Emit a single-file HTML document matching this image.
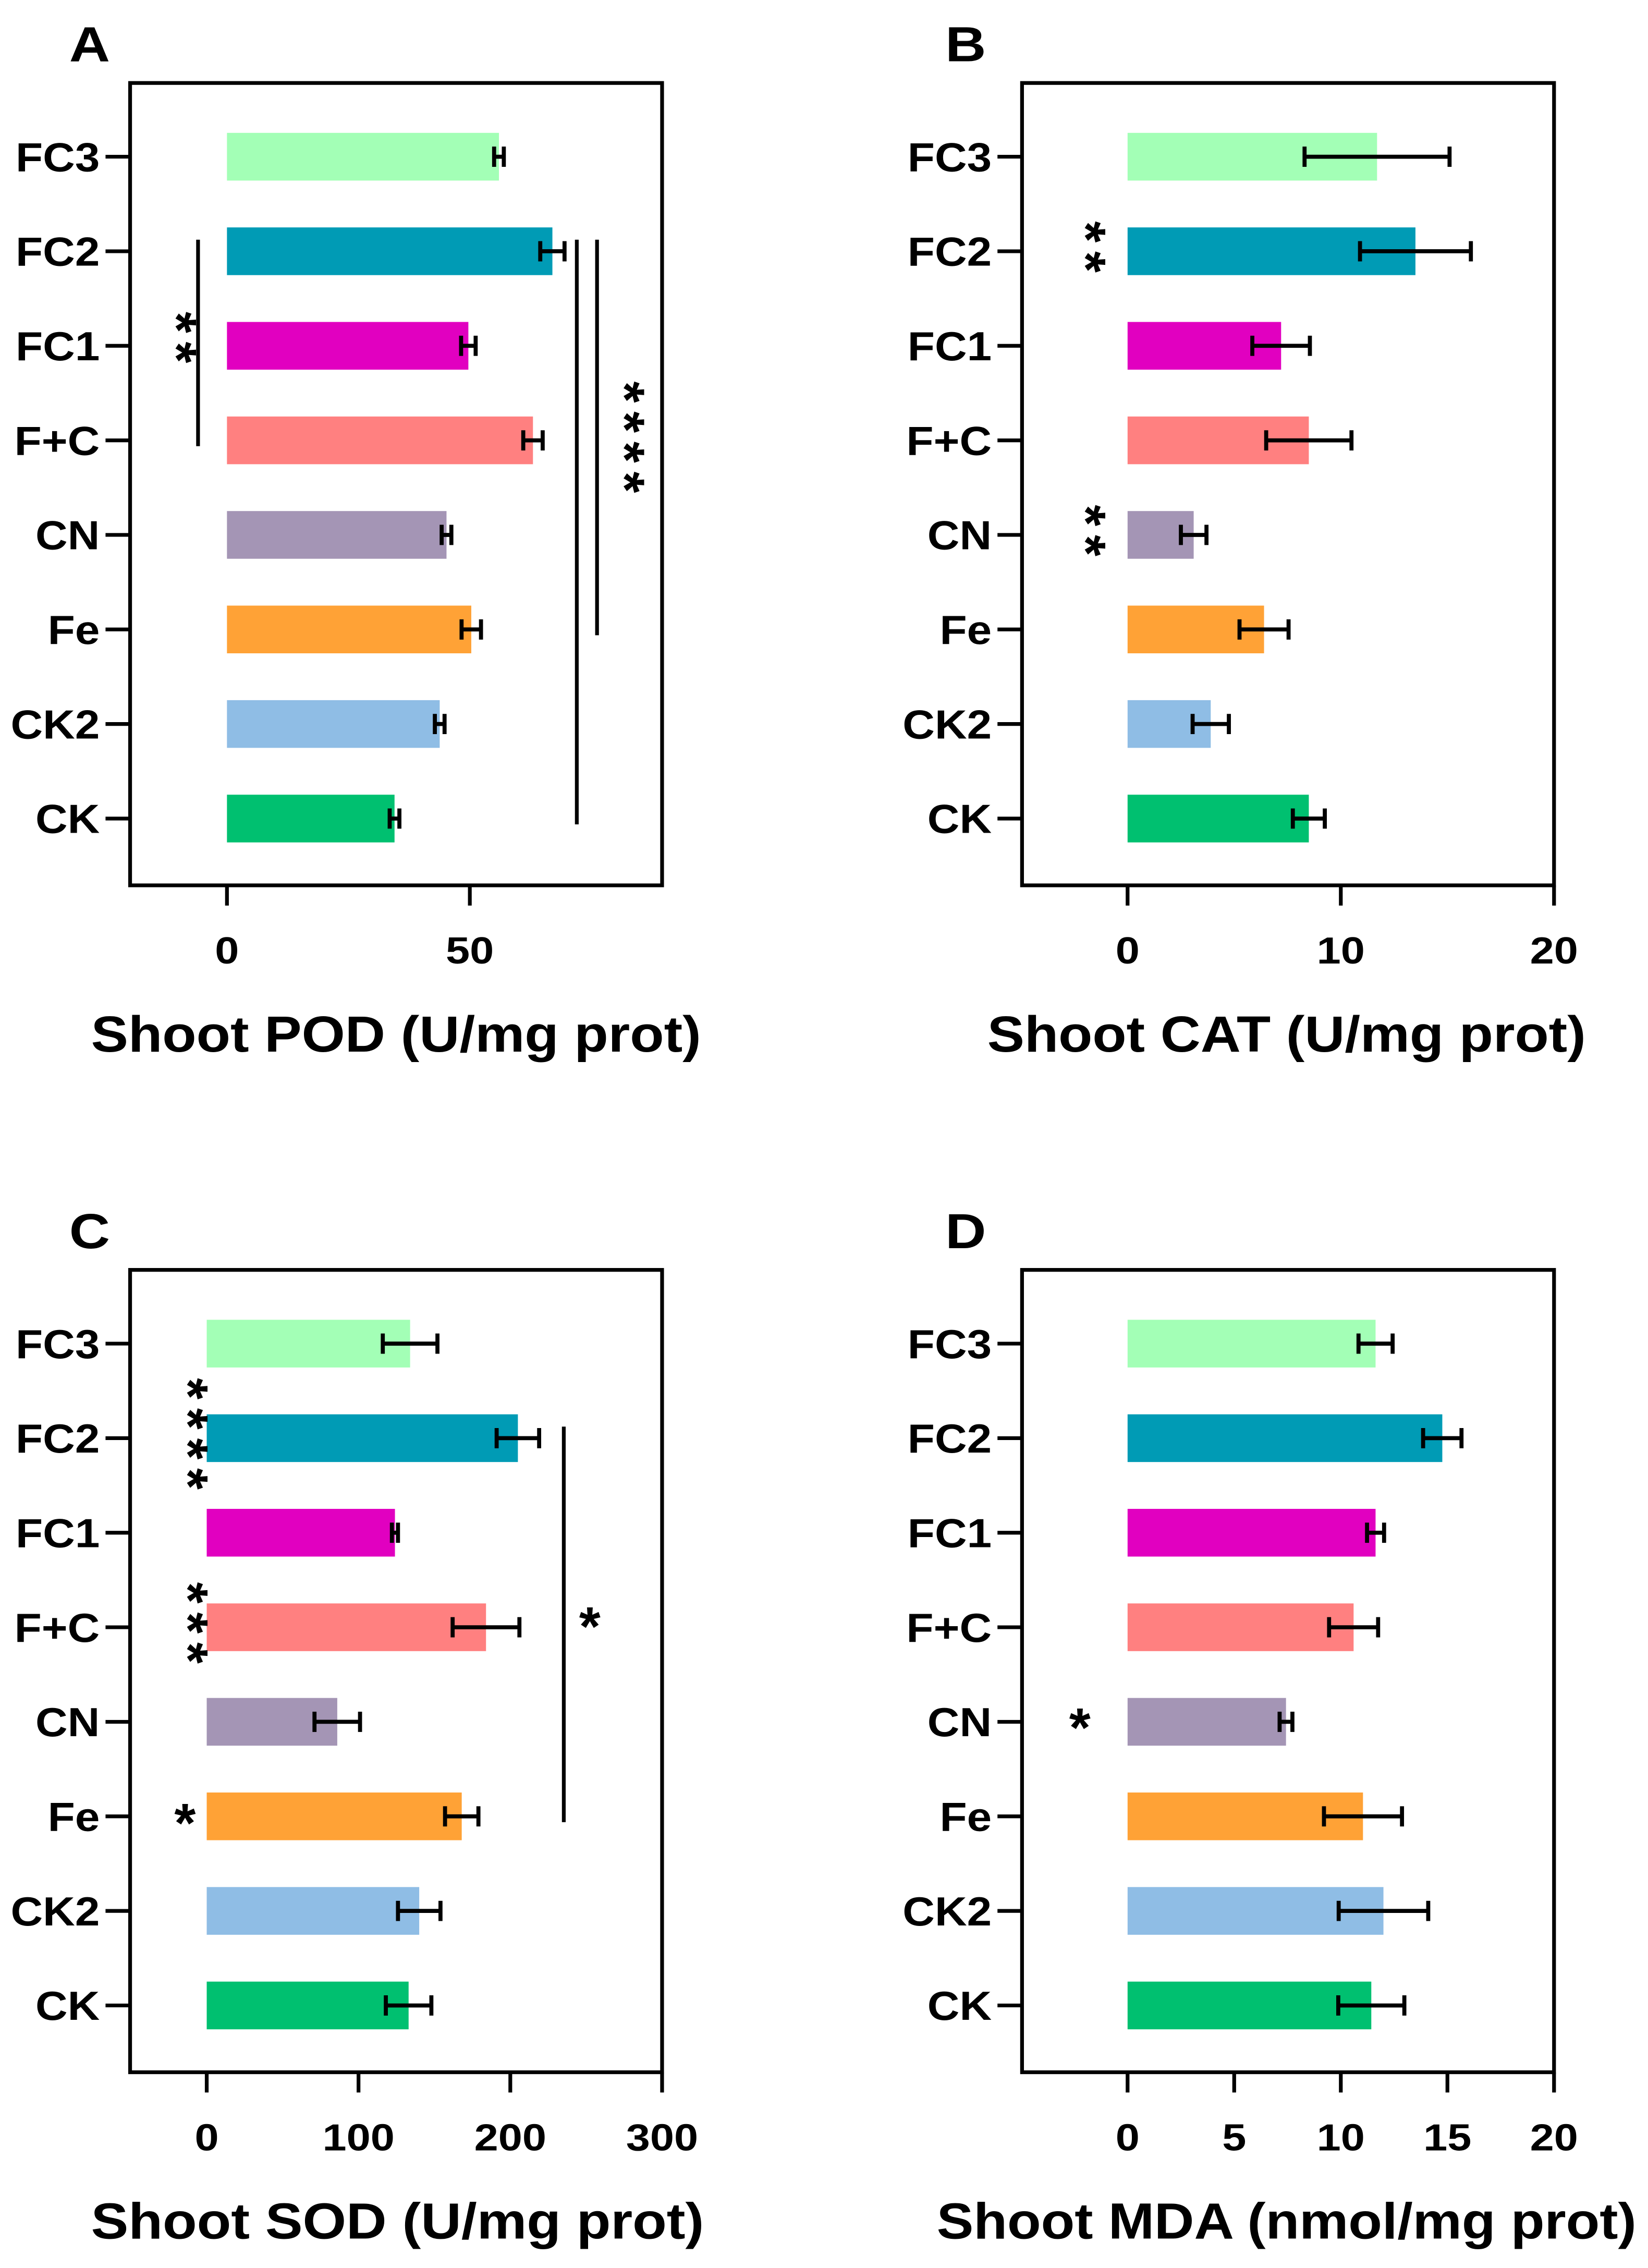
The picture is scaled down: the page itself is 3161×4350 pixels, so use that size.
<!DOCTYPE html>
<html><head><meta charset="utf-8"><style>
html,body{margin:0;padding:0;background:#fff;}
svg{display:block;}
text{font-family:"Liberation Sans",Arial,sans-serif;font-weight:bold;fill:#000;}
</style></head><body>
<svg id="fig" xmlns="http://www.w3.org/2000/svg" width="3161" height="4350" viewBox="0 0 1140 1568"></svg>
<script>
const categories = ["FC3","FC2","FC1","F+C","CN","Fe","CK2","CK"];
const colors = ["#a3ffb6","#009bb5","#e100c0","#ff8080","#a495b5","#ffa236","#8fbde5","#00c070"];
const podValues = [56, 67, 49.7, 63, 45.2, 50.3, 43.8, 34.5];
const podErrors = [1, 2.5, 1.5, 2, 1, 2, 1, 1];
const catValues = [11.7, 13.5, 7.2, 8.5, 3.1, 6.4, 3.9, 8.5];
const catErrors = [3.4, 2.6, 1.35, 2.0, 0.6, 1.15, 0.85, 0.75];
const sodValues = [134, 205, 124, 184, 86, 168, 140, 133];
const sodErrors = [18, 14, 2, 22, 15, 11, 14, 15];
const mdaValues = [11.63, 14.76, 11.63, 10.6, 7.43, 11.04, 12.0, 11.43];
const mdaErrors = [0.8, 0.9, 0.4, 1.15, 0.3, 1.83, 2.1, 1.55];
const podTicks = [0, 50];
const catTicks = [0, 10, 20];
const sodTicks = [0, 100, 200, 300];
const mdaTicks = [0, 5, 10, 15, 20];

const NS = "http://www.w3.org/2000/svg";
const svg = document.getElementById("fig");
function mk(tag, attrs, parent, txt){
  const e = document.createElementNS(NS, tag);
  for (const k in attrs) e.setAttribute(k, attrs[k]);
  if (txt !== undefined) e.textContent = txt;
  (parent || svg).appendChild(e);
  return e;
}
function wtext(x, y, sx, attrs, parent, txt){
  attrs.x = 0; attrs.y = 0;
  attrs.transform = `translate(${x} ${y}) scale(${sx} 1)`;
  return mk("text", attrs, parent, txt);
}

function panel(cfg){
  const g = mk("g", {});
  
  
  const fx0 = cfg.fx0, fx1 = cfg.fx1, fy0 = cfg.fy0, fy1 = cfg.fy1;
  const xs = v => cfg.zeroX + (v - 0) * cfg.pxPerUnit;
  const ys = i => fy0 + 51 + i * 65.4;
  const lt = wtext(cfg.letterX, fy0 - 15, 1.15, {"font-size": 34, "text-anchor": "middle"}, g, cfg.letter);
  
  
  const fr = mk("rect", {x: fx0, y: fy0, width: fx1 - fx0, height: fy1 - fy0, fill: "none", stroke: "#000", "stroke-width": 2.6}, g);
  
  
  categories.forEach((c, i) => {
    const y = ys(i);
    const tk = mk("line", {x1: fx0 - 17, x2: fx0, y1: y, y2: y, stroke: "#000", "stroke-width": 2.6}, g);
    
    
    const tl = wtext(fx0 - 21, y + 10, 1.1, {"font-size": 28, "text-anchor": "end"}, g, c);
    
    
    const v = cfg.values[i], e = cfg.errors[i];
    const b = mk("rect", {x: xs(0), y: y - 16.5, width: xs(v) - xs(0), height: 33, fill: colors[i]}, g);
    
    
    const eb = mk("path", {d: `M${xs(v - e)} ${y}H${xs(v + e)}M${xs(v - e)} ${y - 7}V${y + 7}M${xs(v + e)} ${y - 7}V${y + 7}`, stroke: "#000", "stroke-width": 2.8, fill: "none"}, g);
    
    
  });
  cfg.ticks.forEach(t => {
    const x = xs(t);
    const tk = mk("line", {x1: x, x2: x, y1: fy1, y2: fy1 + 14, stroke: "#000", "stroke-width": 2.6}, g);
    
    
    const tl = wtext(x, fy1 + 54, 1.15, {"font-size": 26, "text-anchor": "middle"}, g, String(t));
    
    
  });
  const at = mk("text", {x: cfg.titleX, y: fy1 + 115, "font-size": 35, "text-anchor": "middle", textLength: cfg.titleW, lengthAdjust: "spacingAndGlyphs"}, g, cfg.title);
  
  
  (cfg.lines || []).forEach(l => {
    const ln = mk("line", {x1: l[0], x2: l[0], y1: ys(l[1]) - 8, y2: ys(l[2]) + 4, stroke: "#000", "stroke-width": 2.6}, g);
    
    
  });
  (cfg.stars || []).forEach(s => {
    const y = s[4] !== undefined ? s[4] : ys(s[1]);
    const attrs = {x: s[0], y: y, "font-size": 38, "text-anchor": "middle", "dominant-baseline": "central", "letter-spacing": s[3] ? 6 : 0};
    if (s[3]) attrs.transform = `rotate(90 ${s[0]} ${y})`;
    const st = mk("text", attrs, g, s[2]);
    
    
  });
}

panel({id:"pod", letter:"A", letterX:62, fx0:90, fx1:458, fy0:57, fy1:612, zeroX:157, pxPerUnit:3.36,
  values:podValues, errors:podErrors, ticks:podTicks, title:"Shoot POD (U/mg prot)", titleX:274, titleW:422,
  lines:[[137,1,3],[399,1,7],[413,1,5]],
  stars:[[122,2,"**",true,236],[432,0,"****",true,305]]});
panel({id:"cat", letter:"B", letterX:668, fx0:707, fx1:1075, fy0:57, fy1:612, zeroX:780, pxPerUnit:14.75,
  values:catValues, errors:catErrors, ticks:catTicks, title:"Shoot CAT (U/mg prot)", titleX:890, titleW:414,
  stars:[[751,1,"**",true],[751,4,"**",true]]});
panel({id:"sod", letter:"C", letterX:62, fx0:90, fx1:458, fy0:878, fy1:1433, zeroX:143, pxPerUnit:1.05,
  values:sodValues, errors:sodErrors, ticks:sodTicks, title:"Shoot SOD (U/mg prot)", titleX:275, titleW:424,
  lines:[[390,1,5]],
  stars:[[130,1,"****",true],[130,3,"***",true],[128,5,"*",false,1261],[408,0,"*",false,1125]]});
panel({id:"mda", letter:"D", letterX:668, fx0:707, fx1:1075, fy0:878, fy1:1433, zeroX:780, pxPerUnit:14.75,
  values:mdaValues, errors:mdaErrors, ticks:mdaTicks, title:"Shoot MDA (nmol/mg prot)", titleX:890, titleW:484,
  stars:[[747,0,"*",false,1195]]});
</script>
</body></html>
